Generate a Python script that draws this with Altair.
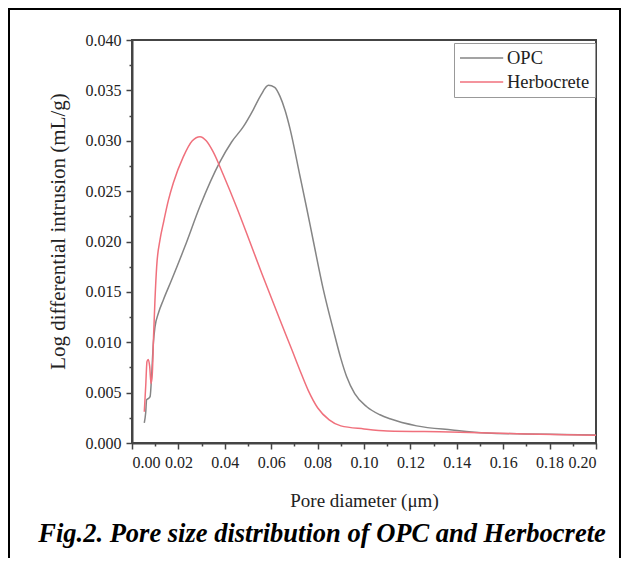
import altair as alt
import pandas as pd

# OPC curve
opc_x = [0.0053, 0.0059, 0.0063, 0.0070, 0.0078, 0.0085, 0.0092, 0.0099, 0.0114, 0.0135,
         0.0171, 0.0228, 0.0293, 0.0379, 0.0430, 0.0480, 0.0523, 0.0555, 0.0588, 0.0615,
         0.0638, 0.0660, 0.0681, 0.0724, 0.0753, 0.0782, 0.0825, 0.0868, 0.0900, 0.0925,
         0.0960, 0.1012, 0.1069, 0.1112, 0.1227, 0.1380, 0.1530, 0.1700, 0.1850, 0.2000]
opc_y = [0.0020, 0.0030, 0.0043, 0.0044, 0.0046, 0.0069, 0.0099, 0.0115, 0.0129, 0.0142,
         0.0162, 0.0195, 0.0235, 0.0279, 0.0299, 0.0314, 0.0331, 0.0345, 0.0355, 0.0353,
         0.0344, 0.0330, 0.0312, 0.0265, 0.0233, 0.0200, 0.0152, 0.0112, 0.0084, 0.0066,
         0.0049, 0.0036, 0.0028, 0.0024, 0.0017, 0.0013, 0.0010, 0.0009, 0.00085, 0.0008]

# Herbocrete curve
her_x = [0.0053, 0.0059, 0.00647, 0.0070, 0.00762, 0.0082, 0.00876, 0.00934, 0.0099, 0.01063,
         0.0121, 0.0135, 0.0157, 0.0178, 0.0221, 0.0260, 0.0293, 0.0320, 0.0350, 0.0394,
         0.0451, 0.0501, 0.0560, 0.0638, 0.0690, 0.0724, 0.0760, 0.0800, 0.0850, 0.0900,
         0.1000, 0.1100, 0.1370, 0.1700, 0.2000]
her_y = [0.0031, 0.0056, 0.0081, 0.0083, 0.0076, 0.0059, 0.0069, 0.0109, 0.0142, 0.0175,
         0.0202, 0.0218, 0.0241, 0.0258, 0.0284, 0.0300, 0.0304, 0.0300, 0.0289, 0.0266,
         0.0234, 0.0204, 0.0168, 0.0122, 0.0092, 0.0072, 0.0052, 0.0035, 0.0023, 0.0017,
         0.0014, 0.0012, 0.0011, 0.0009, 0.00078]

series = ["OPC", "Herbocrete"]
colors = ["#858585", "#f0707c"]

x_ticks = [round(i * 0.01, 2) for i in range(21)]
y_ticks = [round(i * 0.0025, 4) for i in range(17)]

x_title = "Pore diameter (\u03bcm)"
y_title = "Log differential intrusion (mL/g)"
caption = "Fig.2. Pore size distribution of OPC and Herbocrete"

df = pd.concat([
    pd.DataFrame({"d": opc_x, "v": opc_y, "s": "OPC"}),
    pd.DataFrame({"d": her_x, "v": her_y, "s": "Herbocrete"}),
])

FONT = "Liberation Serif"
AXC = "#444444"

x_major = "abs(datum.value*50 - round(datum.value*50)) < 1e-6"
y_major = "abs(datum.value*200 - round(datum.value*200)) < 1e-6"

lines = alt.Chart(df).mark_line(strokeWidth=1.5, interpolate="monotone").encode(
    x=alt.X("d:Q",
            scale=alt.Scale(domain=[0, 0.2], nice=False, zero=False),
            axis=alt.Axis(
                values=x_ticks,
                labelExpr=f"({x_major}) ? format(datum.value, '.2f') : ''",
                tickSize={"condition": {"test": x_major, "value": 6}, "value": 3},
                title=x_title, titleX=232, titleY=57, titleBaseline="middle",
                titleFontSize=19, labelFontSize=16, labelPadding=5,
            )),
    y=alt.Y("v:Q",
            scale=alt.Scale(domain=[0, 0.04], nice=False),
            axis=alt.Axis(
                values=y_ticks,
                labelExpr=f"({y_major}) ? format(datum.value, '.3f') : ''",
                tickSize={"condition": {"test": y_major, "value": 6}, "value": 3},
                title=y_title, titleX=-74, titleY=191, titleAngle=270,
                titleBaseline="middle", titleAlign="center",
                titleFontSize=21, labelFontSize=16, labelPadding=5,
            )),
    color=alt.Color("s:N", sort=series,
                    scale=alt.Scale(domain=series, range=colors),
                    legend=alt.Legend(
                        title=None, orient="none", legendX=322, legendY=3,
                        symbolType="M-1,0H3.8", symbolSize=324, symbolStrokeWidth=1.5,
                        symbolFillColor="transparent",
                        labelFont=FONT, labelFontSize=18.5, labelColor="#222",
                        labelOffset=28, rowPadding=4, padding=5,
                        strokeColor="#999999", fillColor="white",
                    )),
)

cap = alt.Chart(alt.Data(values=[{"t": caption}])).mark_text(
    font=FONT, fontSize=26.5, fontStyle="italic", fontWeight="bold",
    color="black", align="center", baseline="middle",
).encode(x=alt.value(190), y=alt.value(494), text="t:N")

frame = alt.Chart(alt.Data(values=[{"a": 1}])).mark_rect(
    fillOpacity=0, stroke="black", strokeWidth=2,
).encode(x=alt.value(-123), x2=alt.value(488), y=alt.value(-31), y2=alt.value(700))

chart = alt.layer(lines, cap, frame).properties(
    width=464, height=403,
    autosize=alt.AutoSizeParams(type="none"),
    padding={"left": 124, "top": 32, "right": 25, "bottom": 115},
    background="white",
).configure_view(
    stroke=AXC, strokeWidth=2,
).configure_axis(
    grid=False, domainColor=AXC, domainWidth=2, tickColor=AXC, tickWidth=1.5,
    labelFont=FONT, titleFont=FONT, labelColor="#222", titleColor="#222",
    titleFontWeight="normal",
)

chart.save("out.html", embed_options={"renderer": "svg", "actions": False})
